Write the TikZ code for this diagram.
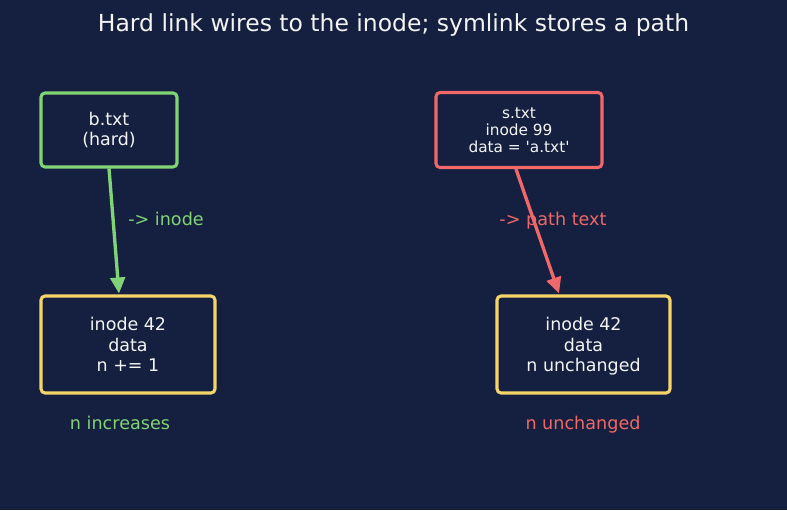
\documentclass[tikz,border=0pt]{standalone}
\usepackage{fontspec}
\setmainfont{DejaVu Sans}
\usetikzlibrary{arrows.meta}
\definecolor{bg}{HTML}{152040}
\definecolor{hgreen}{HTML}{80D475}
\definecolor{sred}{HTML}{F06868}
\definecolor{iyellow}{HTML}{F5D46A}
\definecolor{txt}{HTML}{F4F4F4}
\newcommand{\nodepth}[1]{\raisebox{0pt}[\height][0pt]{#1}}
\tikzset{
  px/.style={x=0.75pt,y=-0.75pt},
  box/.style={draw, line width=2.3pt, rounded corners=3pt, fill=bg, text=txt, align=center, inner sep=0pt},
  bigtxt/.style={font=\fontsize{13.1pt}{15.4pt}\selectfont},
  smalltxt/.style={font=\fontsize{11.5pt}{12.8pt}\selectfont},
  conn/.style={line width=2.5pt, -{Triangle[length=12pt,width=11pt]}},
  lbl/.style={font=\fontsize{13.2pt}{15pt}\selectfont, anchor=base}
}
\begin{document}
\begin{tikzpicture}[px]
\fill[bg] (0,0) rectangle (787,510);
\useasboundingbox (0,0) rectangle (787,510);
\node[txt, font=\fontsize{17.6pt}{20pt}\selectfont, anchor=base] (title) at (393.5,31.7) {Hard link wires to the inode; symlink stores a path};
\node[box, draw=hgreen, bigtxt, minimum width=136*0.75pt, minimum height=74*0.75pt] (b) at (109,130) {b.txt\\(hard)};
\node[box, draw=sred, smalltxt, minimum width=166*0.75pt, minimum height=75*0.75pt] (s) at (519,130) {s.txt\\inode 99\\data = \textquotesingle a.txt\textquotesingle};
\node[box, draw=iyellow, bigtxt, minimum width=174*0.75pt, minimum height=97*0.75pt] (i1) at (128,344.5) {inode 42\\data\\n += 1};
\node[box, draw=iyellow, bigtxt, minimum width=173*0.75pt, minimum height=97*0.75pt] (i2) at (583.5,344.5) {inode 42\\data\\\nodepth{n unchanged}};
\node[lbl, text=hgreen] (l1) at (166,225.7) {-> inode};
\node[lbl, text=sred] (l2) at (553,225.7) {-> path text};
\node[lbl, text=hgreen] (l3) at (120,429.5) {n increases};
\node[lbl, text=sred] (l4) at (583,429.5) {n unchanged};
\draw[conn, hgreen] (b.south) -- ([xshift=-6.75pt,yshift=0.75pt]i1.north);
\draw[conn, sred] ([xshift=-2.25pt]s.south) -- ([xshift=-18.4pt,yshift=0.75pt]i2.north);
\end{tikzpicture}
\end{document}
